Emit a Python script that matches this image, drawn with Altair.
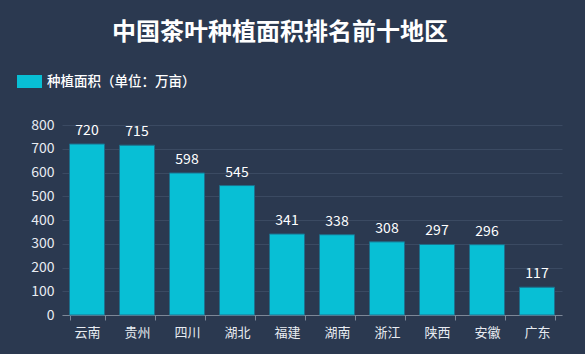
import altair as alt
import pandas as pd

regions = ["云南", "贵州", "四川", "湖北", "福建", "湖南", "浙江", "陕西", "安徽", "广东"]
areas = [720, 715, 598, 545, 341, 338, 308, 297, 296, 117]
series_name = "种植面积（单位：万亩）"
y_ticks = [0, 100, 200, 300, 400, 500, 600, 700, 800]

df = pd.DataFrame({"region": regions, "area": areas, "series": [series_name] * len(regions)})

x = alt.X("region:N", sort=regions, title=None,
          scale=alt.Scale(paddingInner=0.3, paddingOuter=0.15),
          axis=alt.Axis(labelAngle=0, labelColor="#e8ecf2", labelFontSize=13, labelPadding=6,
                        domainColor="#7d8797", tickColor="#7d8797", tickSize=5,
                        tickBand="extent", grid=False))
y = alt.Y("area:Q", title=None,
          scale=alt.Scale(domain=[0, 800], nice=False),
          axis=alt.Axis(values=y_ticks, labelOverlap=False, labelColor="#e8ecf2", labelFontSize=14,
                        labelPadding=8, domain=False, ticks=False, gridColor="#3b4a62", gridWidth=1))

bars = alt.Chart(df).mark_bar(stroke="#1d6f8c", strokeWidth=1).encode(
    x=x, y=y,
    color=alt.Color("series:N", scale=alt.Scale(range=["#08bfd5"]), title=None,
                    legend=alt.Legend(orient="none", legendX=-45, legendY=-56,
                                      symbolType="M-1,-0.52 h2 v1.04 h-2 z", symbolSize=625,
                                      symbolStrokeWidth=0, labelColor="#ffffff",
                                      labelFontSize=13.5, labelFontWeight=500, labelOffset=5))
)
labels = alt.Chart(df).mark_text(dy=-13, color="#ffffff", fontSize=14).encode(
    x=x, y=y, text="area:Q"
)

chart = (bars + labels).properties(
    width=500, height=190,
    title=alt.TitleParams("中国茶叶种植面积排名前十地区", color="#ffffff", fontSize=24,
                          fontWeight="bold", anchor="middle", offset=24, dx=-32),
    background="#2b3950",
    autosize=alt.AutoSizeParams(type="none"),
    padding={"left": 62, "top": 125, "right": 23, "bottom": 39},
).configure(font="Noto Sans CJK SC", view=alt.ViewConfig(stroke=None))

chart.save("out.html", embed_options={"renderer": "svg", "actions": False})
